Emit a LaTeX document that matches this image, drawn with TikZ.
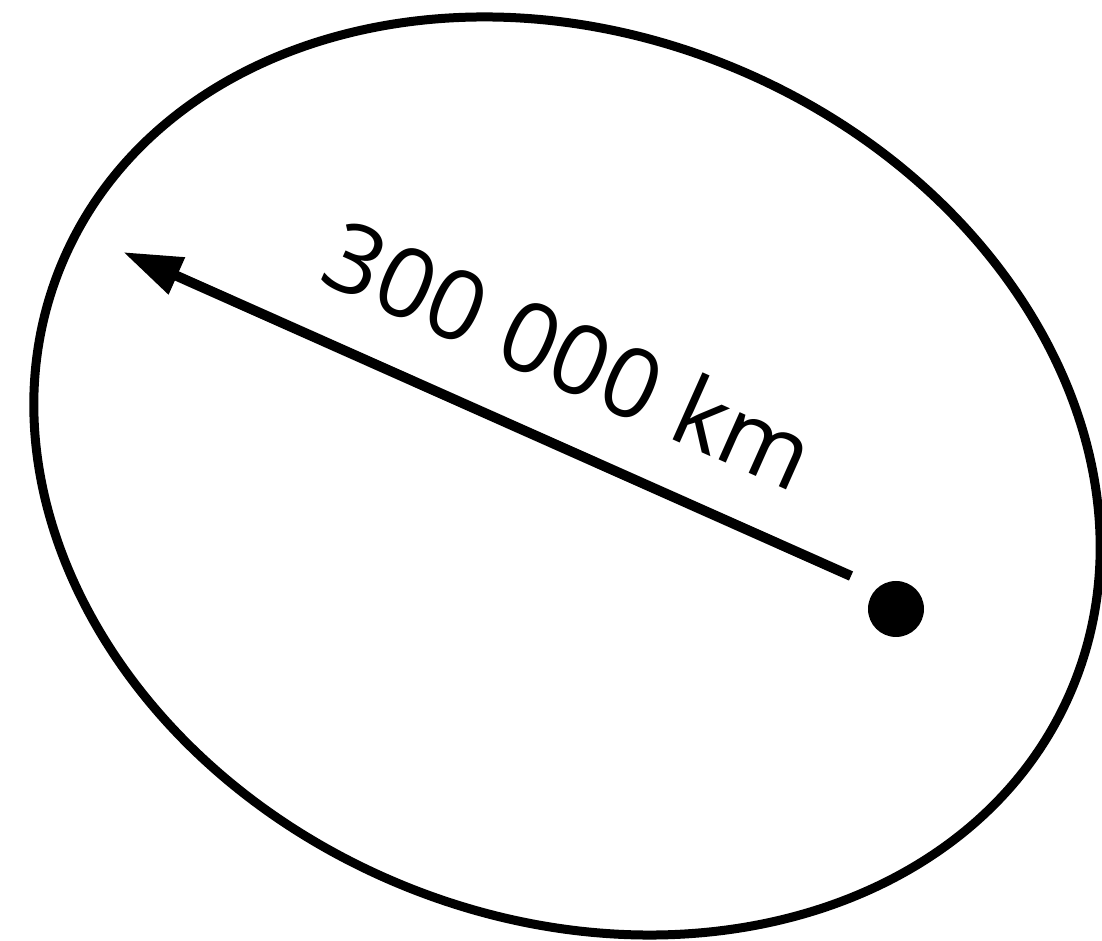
\documentclass[tikz,border=0pt]{standalone}
\usepackage{fontspec}
\setmainfont{Open Sans}
\usetikzlibrary{arrows.meta}
\begin{document}
\begin{tikzpicture}[
orbit/.style={draw, line width=0.09cm},
arrow/.style={-{Triangle[length=5.9mm, width=3.8mm]}, line width=0.1cm},
dist/.style={inner sep=0pt, font=\fontsize{27.5pt}{33pt}\selectfont}
]
\useasboundingbox (0,0) rectangle (11.02,9.41);
\draw[orbit, rotate around={-23:(5.67,4.65)}] (5.67,4.65) ellipse [x radius=5.48cm, y radius=4.41cm];
\node[circle, fill, inner sep=0pt, minimum size=0.56cm] (centre) at (8.96,3.32) {};
\coordinate (tail) at (8.51,3.65);
\coordinate (tip) at (1.23,6.89);
\draw[arrow] (tail) -- (tip);
\coordinate (mid) at (5.70,5.87);
\node[dist, rotate=-24] (label) at (mid) {300 000 km};
\end{tikzpicture}
\end{document}
